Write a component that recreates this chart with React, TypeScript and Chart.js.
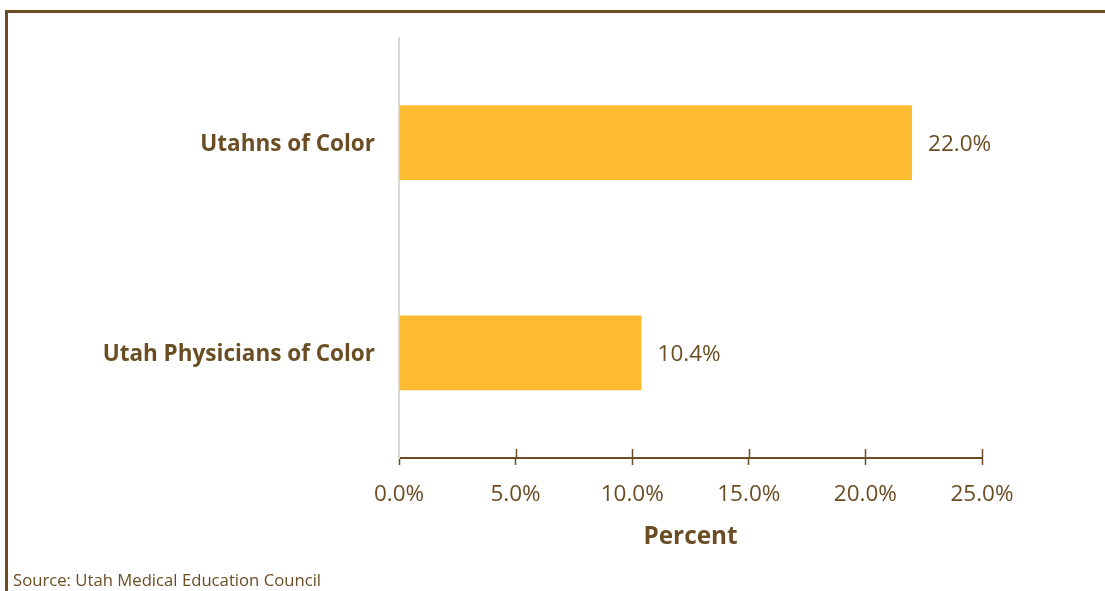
import React, { useEffect, useRef } from "react";
import { Chart, registerables } from "chart.js";

Chart.register(...registerables);

const categories = ["Utahns of Color", "Utah Physicians of Color"];
const values = [22.0, 10.4];
const xTicks = [0, 5, 10, 15, 20, 25];
const axisTitle = "Percent";
const sourceText = "Source: Utah Medical Education Council";

const BROWN = "#6B4D23";
const BAR = "#FDBB30";
const FONT = "'Open Sans', 'Noto Sans', sans-serif";

const W = 1105;
const H = 591;

export default function App() {
  const ref = useRef<HTMLCanvasElement | null>(null);

  useEffect(() => {
    const canvas = ref.current;
    if (!canvas) return;

    const decor = {
      id: "decor",
      beforeDraw(chart: any) {
        const ctx = chart.ctx;
        ctx.save();
        ctx.fillStyle = "#ffffff";
        ctx.fillRect(0, 0, W, H);
        ctx.strokeStyle = BROWN;
        ctx.lineWidth = 3;
        ctx.beginPath();
        ctx.moveTo(W, 11.5);
        ctx.lineTo(6.5, 11.5);
        ctx.lineTo(6.5, H);
        ctx.stroke();
        ctx.restore();
      },
      afterDraw(chart: any) {
        const ctx = chart.ctx;
        const xs = chart.scales.x;
        const area = chart.chartArea;
        ctx.save();
        // tick marks crossing the axis line
        ctx.strokeStyle = BROWN;
        ctx.lineWidth = 1.5;
        xTicks.forEach((t, i) => {
          if (i === 0) return;
          const px = Math.round(xs.getPixelForValue(t)) + 0.5;
          ctx.beginPath();
          ctx.moveTo(px, area.bottom - 9);
          ctx.lineTo(px, area.bottom);
          ctx.stroke();
        });
        // value labels
        const meta = chart.getDatasetMeta(0);
        ctx.fillStyle = BROWN;
        ctx.font = `22.5px ${FONT}`;
        ctx.textAlign = "left";
        ctx.textBaseline = "middle";
        meta.data.forEach((bar: any, i: number) => {
          ctx.fillText(values[i].toFixed(1) + "%", bar.x + 16, bar.y + 2);
        });
        // source
        ctx.font = `16.7px ${FONT}`;
        ctx.textBaseline = "alphabetic";
        ctx.fillText(sourceText, 13, 586);
        ctx.restore();
      },
    };

    const chart = new Chart(canvas, {
      type: "bar",
      data: {
        labels: categories,
        datasets: [
          {
            data: values,
            backgroundColor: BAR,
            borderWidth: 0,
            barPercentage: 0.356,
            categoryPercentage: 1,
          },
        ],
      },
      options: {
        indexAxis: "y",
        responsive: false,
        animation: false,
        layout: { padding: { top: 37, right: 123, left: 0, bottom: 0 } },
        plugins: {
          legend: { display: false },
          tooltip: { enabled: false },
        },
        scales: {
          x: {
            min: 0,
            max: 25,
            afterFit(scale: any) {
              scale.height = H - 458;
            },
            afterBuildTicks(scale: any) {
              scale.ticks = xTicks.map((v) => ({ value: v }));
            },
            grid: {
              display: true,
              drawOnChartArea: false,
              drawTicks: true,
              tickLength: 7,
              tickColor: BROWN,
              tickWidth: 1.5,
            },
            border: { display: true, color: BROWN, width: 2 },
            ticks: {
              color: BROWN,
              font: { family: FONT, size: 22.5 },
              padding: 16,
              maxRotation: 0,
              callback: (v: any) => Number(v).toFixed(1) + "%",
            },
            title: {
              display: true,
              text: axisTitle,
              color: BROWN,
              font: { family: FONT, size: 24.3, weight: "bold" },
              padding: { top: 0, bottom: 39 },
            },
          },
          y: {
            afterFit(scale: any) {
              scale.width = 399;
            },
            grid: { display: false, drawTicks: false },
            border: { display: true, color: "#D9D9D9", width: 2 },
            ticks: {
              color: BROWN,
              font: { family: FONT, size: 22.5, weight: "bold" },
              padding: 24,
              labelOffset: 1.5,
            },
          },
        },
      },
      plugins: [decor],
    });

    return () => chart.destroy();
  }, []);

  return (
    <div style={{ position: "fixed", left: 0, top: 0, width: W, height: H }}>
      <canvas ref={ref} width={W} height={H} style={{ display: "block" }} />
    </div>
  );
}
